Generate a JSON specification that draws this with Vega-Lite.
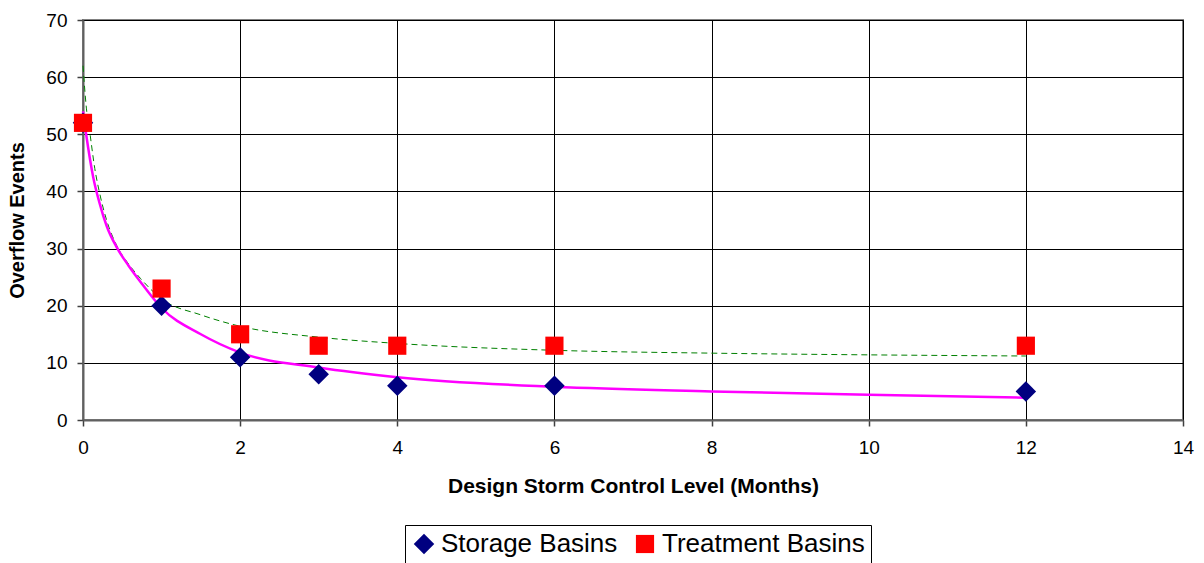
{
  "$schema": "https://vega.github.io/schema/vega-lite/v6.json",
  "width": 1100,
  "height": 400,
  "autosize": "none",
  "padding": {"left": 83, "top": 20, "right": 21, "bottom": 143},
  "background": "white",
  "config": {
    "font": "Liberation Sans",
    "view": {"stroke": "#808080", "strokeWidth": 2}
  },
  "datasets": {
    "points": [
      {"x": 0, "y": 52, "series": "Storage Basins"},
      {"x": 1, "y": 20, "series": "Storage Basins"},
      {"x": 2, "y": 11, "series": "Storage Basins"},
      {"x": 3, "y": 8, "series": "Storage Basins"},
      {"x": 4, "y": 6, "series": "Storage Basins"},
      {"x": 6, "y": 6, "series": "Storage Basins"},
      {"x": 12, "y": 5, "series": "Storage Basins"},
      {"x": 0, "y": 52, "series": "Treatment Basins"},
      {"x": 1, "y": 23, "series": "Treatment Basins"},
      {"x": 2, "y": 15, "series": "Treatment Basins"},
      {"x": 3, "y": 13, "series": "Treatment Basins"},
      {"x": 4, "y": 13, "series": "Treatment Basins"},
      {"x": 6, "y": 13, "series": "Treatment Basins"},
      {"x": 12, "y": 13, "series": "Treatment Basins"}
    ],
    "trend": [
      {"x": 0, "y": 54, "fit": "storage"},
      {"x": 0.04, "y": 50, "fit": "storage"},
      {"x": 0.13, "y": 42.5, "fit": "storage"},
      {"x": 0.21, "y": 38, "fit": "storage"},
      {"x": 0.3, "y": 34, "fit": "storage"},
      {"x": 0.43, "y": 30.2, "fit": "storage"},
      {"x": 0.58, "y": 27, "fit": "storage"},
      {"x": 0.73, "y": 24.2, "fit": "storage"},
      {"x": 1, "y": 19.6, "fit": "storage"},
      {"x": 1.5, "y": 15.0, "fit": "storage"},
      {"x": 2, "y": 11.8, "fit": "storage"},
      {"x": 3, "y": 9.2, "fit": "storage"},
      {"x": 4, "y": 7.5, "fit": "storage"},
      {"x": 6, "y": 5.8, "fit": "storage"},
      {"x": 8, "y": 5.0, "fit": "storage"},
      {"x": 10, "y": 4.4, "fit": "storage"},
      {"x": 12, "y": 3.9, "fit": "storage"},
      {"x": 0, "y": 62, "fit": "treatment"},
      {"x": 0.04, "y": 55, "fit": "treatment"},
      {"x": 0.09, "y": 50, "fit": "treatment"},
      {"x": 0.15, "y": 44, "fit": "treatment"},
      {"x": 0.21, "y": 39.8, "fit": "treatment"},
      {"x": 0.3, "y": 35, "fit": "treatment"},
      {"x": 0.43, "y": 30.5, "fit": "treatment"},
      {"x": 0.58, "y": 27.3, "fit": "treatment"},
      {"x": 0.73, "y": 24.8, "fit": "treatment"},
      {"x": 1, "y": 21.2, "fit": "treatment"},
      {"x": 1.5, "y": 18.4, "fit": "treatment"},
      {"x": 2, "y": 16.4, "fit": "treatment"},
      {"x": 3, "y": 14.5, "fit": "treatment"},
      {"x": 4, "y": 13.4, "fit": "treatment"},
      {"x": 6, "y": 12.2, "fit": "treatment"},
      {"x": 8, "y": 11.7, "fit": "treatment"},
      {"x": 10, "y": 11.4, "fit": "treatment"},
      {"x": 12, "y": 11.2, "fit": "treatment"}
    ]
  },
  "layer": [
    {
      "data": {"name": "trend"},
      "transform": [{"filter": "datum.fit === 'treatment'"}],
      "mark": {"type": "line", "color": "#008000", "strokeWidth": 1, "strokeDash": [6, 4], "interpolate": "monotone"},
      "encoding": {
        "x": {"field": "x", "type": "quantitative", "scale": {"domain": [0, 14]},
          "axis": {"title": "Design Storm Control Level (Months)", "values": [0, 2, 4, 6, 8, 10, 12, 14], "format": "d",
            "labelFlush": false, "labelOverlap": false,
            "labelFont": "Liberation Sans", "labelFontSize": 19, "labelColor": "black", "labelPadding": 12,
            "titleFont": "Liberation Sans", "titleFontSize": 21, "titleFontWeight": "bold", "titleColor": "black", "titlePadding": 18,
            "grid": true, "gridColor": "black", "gridWidth": 1, "gridOpacity": 1,
            "domainColor": "#606060", "domainWidth": 2, "tickColor": "#404040", "tickSize": 6, "tickWidth": 1.5}},
        "y": {"field": "y", "type": "quantitative", "scale": {"domain": [0, 70]},
          "axis": {"title": "Overflow Events", "values": [0, 10, 20, 30, 40, 50, 60, 70], "format": "d",
            "labelFlush": false, "labelOverlap": false,
            "labelFont": "Liberation Sans", "labelFontSize": 19, "labelColor": "black", "labelPadding": 10,
            "titleFont": "Liberation Sans", "titleFontSize": 20, "titleFontWeight": "bold", "titleColor": "black", "titlePadding": 18,
            "grid": true, "gridColor": "black", "gridWidth": 1, "gridOpacity": 1,
            "domainColor": "#606060", "domainWidth": 2, "tickColor": "#404040", "tickSize": 6, "tickWidth": 1.5}}
      }
    },
    {
      "data": {"name": "trend"},
      "transform": [{"filter": "datum.fit === 'storage'"}],
      "mark": {"type": "line", "color": "#FF00FF", "strokeWidth": 2.5, "interpolate": "monotone"},
      "encoding": {
        "x": {"field": "x", "type": "quantitative"},
        "y": {"field": "y", "type": "quantitative"}
      }
    },
    {
      "data": {"name": "points"},
      "mark": {"type": "point", "filled": true, "opacity": 1},
      "encoding": {
        "x": {"field": "x", "type": "quantitative"},
        "y": {"field": "y", "type": "quantitative"},
        "color": {"field": "series", "type": "nominal",
          "scale": {"domain": ["Storage Basins", "Treatment Basins"], "range": ["#000080", "#FF0000"]},
          "legend": {
            "title": null, "orient": "none", "direction": "horizontal",
            "legendX": 322, "legendY": 505,
            "labelFontSize": 26, "labelFont": "Liberation Sans", "labelColor": "black", "labelLimit": 400,
            "symbolSize": 330, "symbolStrokeWidth": 0, "symbolOpacity": 1,
            "columnPadding": 14, "labelOffset": 4,
            "strokeColor": "black", "padding": 6, "fillColor": "white"
          }},
        "shape": {"field": "series", "type": "nominal",
          "scale": {"domain": ["Storage Basins", "Treatment Basins"], "range": ["diamond", "square"]}},
        "size": {"field": "series", "type": "nominal",
          "scale": {"domain": ["Storage Basins", "Treatment Basins"], "range": [420, 330]}, "legend": null}
      }
    }
  ]
}
